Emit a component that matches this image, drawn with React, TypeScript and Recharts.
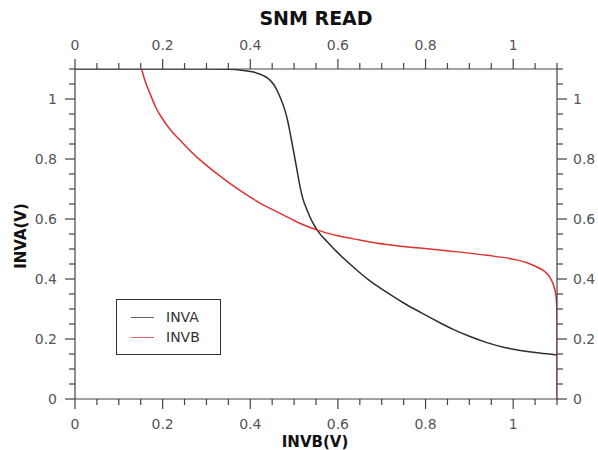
import React from 'react';
import { LineChart, Line, XAxis, YAxis } from 'recharts';

// INVA curve (black)
const invaX = [0, 0.3, 0.35, 0.38, 0.407, 0.43, 0.445, 0.455, 0.464, 0.472, 0.479, 0.485, 0.491, 0.497, 0.502, 0.508, 0.513, 0.52, 0.529, 0.541, 0.555, 0.575, 0.6, 0.635, 0.67, 0.711, 0.75, 0.787, 0.825, 0.863, 0.9, 0.94, 0.98, 1.016, 1.06, 1.1];
const invaY = [1.1, 1.1, 1.099, 1.096, 1.09, 1.078, 1.063, 1.045, 1.02, 0.992, 0.963, 0.93, 0.886, 0.84, 0.8, 0.752, 0.712, 0.668, 0.632, 0.592, 0.558, 0.525, 0.487, 0.44, 0.397, 0.356, 0.32, 0.29, 0.26, 0.232, 0.209, 0.188, 0.172, 0.162, 0.153, 0.147];

// INVB curve (red)
const invbX = [0.152, 0.16, 0.171, 0.185, 0.2015, 0.22, 0.2395, 0.2775, 0.323, 0.3755, 0.4212, 0.475, 0.513, 0.555, 0.6, 0.65, 0.711, 0.787, 0.863, 0.94, 1.0, 1.03, 1.054, 1.072, 1.086, 1.094, 1.098, 1.0995, 1.1, 1.1];
const invbY = [1.1, 1.06, 1.019, 0.97, 0.93, 0.893, 0.863, 0.807, 0.752, 0.696, 0.654, 0.614, 0.586, 0.562, 0.544, 0.53, 0.515, 0.503, 0.492, 0.479, 0.466, 0.455, 0.44, 0.425, 0.4, 0.37, 0.34, 0.3, 0.25, 0];

const axisTicks = [0, 0.05, 0.1, 0.15, 0.2, 0.25, 0.3, 0.35, 0.4, 0.45, 0.5, 0.55, 0.6, 0.65, 0.7, 0.75, 0.8, 0.85, 0.9, 0.95, 1, 1.05, 1.1];

const invaData = invaX.map((x, i) => ({ x, y: invaY[i] }));
const invbData = invbX.map((x, i) => ({ x, y: invbY[i] }));

const FONT = '"DejaVu Sans", sans-serif';
const AXIS = '#444';
const LABEL = '#555';
const BLACK = '#2e2e2e';
const RED = '#e0302f';

const isMajor = (v: number) => Math.abs(v * 5 - Math.round(v * 5)) < 1e-6;
const fmt = (v: number) => String(Math.round(v * 10) / 10);

function makeTick(side: 'top' | 'bottom' | 'left' | 'right') {
  return (props: any) => {
    const { x, y, payload } = props;
    const major = isMajor(payload.value);
    const len = major ? 10 : 6;
    const label = fmt(payload.value);
    if (side === 'bottom' || side === 'top') {
      const s = side === 'bottom' ? 1 : -1;
      return (
        <g>
          <line x1={x} y1={y} x2={x} y2={y + s * len} stroke={AXIS} strokeWidth={1.2} />
          {major && (
            <text x={x} y={side === 'bottom' ? y + 30 : y - 19} textAnchor="middle" fill={LABEL} fontSize={14} fontFamily={FONT}>
              {label}
            </text>
          )}
        </g>
      );
    }
    const s = side === 'right' ? 1 : -1;
    return (
      <g>
        <line x1={x} y1={y} x2={x + s * len} y2={y} stroke={AXIS} strokeWidth={1.2} />
        {major && (
          <text x={side === 'right' ? x + 16 : x - 18} y={y + 5} textAnchor={side === 'right' ? 'start' : 'end'} fill={LABEL} fontSize={14} fontFamily={FONT}>
            {label}
          </text>
        )}
      </g>
    );
  };
}

function LegendBox() {
  const items = [
    { name: 'INVA', color: BLACK },
    { name: 'INVB', color: RED },
  ];
  return (
    <div style={{ position: 'absolute', left: 116, top: 299, border: '1px solid #333', width: 105, height: 56, boxSizing: 'border-box', background: '#fff', paddingTop: 7 }}>
      {items.map((it) => (
        <div key={it.name} style={{ display: 'flex', alignItems: 'center', height: 20, fontFamily: FONT, fontSize: 14, color: '#333' }}>
          <span style={{ display: 'inline-block', width: 23, height: 0, borderTop: `1.5px solid ${it.color}`, marginLeft: 14, marginRight: 12, opacity: 0.75 }} />
          {it.name}
        </div>
      ))}
    </div>
  );
}

export default function App() {
  return (
    <div style={{ position: 'absolute', left: 0, top: 0, width: 598, height: 450, background: '#fff' }}>
      <LineChart width={598} height={450} margin={{ top: 39, right: 11, bottom: 21, left: 35 }}>
        <XAxis xAxisId="bottom" type="number" dataKey="x" domain={[0, 1.1]} ticks={axisTicks} interval={0} height={30} tickSize={0} tickMargin={0} tickLine={false} tick={makeTick('bottom')} axisLine={{ stroke: AXIS, strokeWidth: 1.2 }} allowDataOverflow />
        <XAxis xAxisId="top" orientation="top" type="number" dataKey="x" domain={[0, 1.1]} ticks={axisTicks} interval={0} height={30} tickSize={0} tickMargin={0} tickLine={false} tick={makeTick('top')} axisLine={{ stroke: AXIS, strokeWidth: 1.2 }} allowDataOverflow />
        <YAxis yAxisId="left" type="number" dataKey="y" domain={[0, 1.1]} ticks={axisTicks} interval={0} width={40} tickSize={0} tickMargin={0} tickLine={false} tick={makeTick('left')} axisLine={{ stroke: AXIS, strokeWidth: 1.2 }} allowDataOverflow />
        <YAxis yAxisId="right" orientation="right" type="number" dataKey="y" domain={[0, 1.1]} ticks={axisTicks} interval={0} width={30} tickSize={0} tickMargin={0} tickLine={false} tick={makeTick('right')} axisLine={{ stroke: AXIS, strokeWidth: 1.2 }} allowDataOverflow />
        <Line data={invaData} xAxisId="bottom" yAxisId="left" dataKey="y" name="INVA" type="monotoneX" stroke={BLACK} strokeWidth={1.5} dot={false} isAnimationActive={false} />
        <Line data={invbData} xAxisId="top" yAxisId="right" dataKey="y" name="INVB" type="monotoneX" stroke={RED} strokeWidth={1.5} dot={false} isAnimationActive={false} />
      </LineChart>
      <LegendBox />
      <div style={{ position: 'absolute', left: 0, width: 632, top: 6, textAlign: 'center', fontFamily: FONT, fontWeight: 'bold', fontSize: 19, color: '#111', lineHeight: '24px' }}>
        SNM READ
      </div>
      <div style={{ position: 'absolute', left: 0, width: 630, top: 433, textAlign: 'center', fontFamily: FONT, fontWeight: 'bold', fontSize: 15, color: '#111', lineHeight: '18px' }}>
        INVB(V)
      </div>
      <div style={{ position: 'absolute', left: 21, top: 236, transform: 'translate(-50%, -50%) rotate(-90deg)', fontFamily: FONT, fontWeight: 'bold', fontSize: 15, color: '#111', lineHeight: '20px', whiteSpace: 'nowrap' }}>
        INVA(V)
      </div>
    </div>
  );
}
